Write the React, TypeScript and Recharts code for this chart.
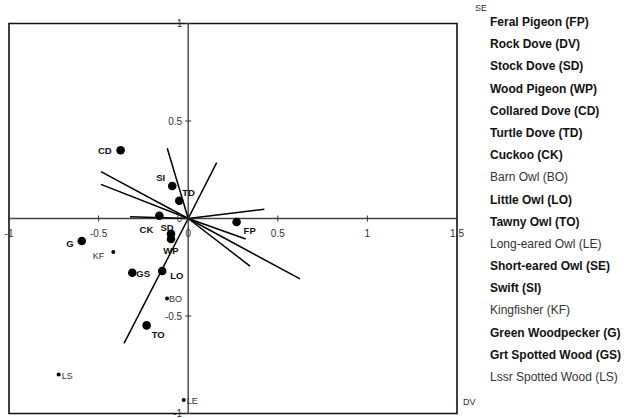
import { ScatterChart, Scatter, XAxis, YAxis, ReferenceLine, ReferenceArea } from "recharts"

// species scores (pixel-read estimates)
const majorCodes = ["CD", "SI", "TD", "CK", "SD", "WP", "FP", "G", "GS", "LO", "TO"]
const majorX = [-0.377, -0.089, -0.05, -0.161, -0.096, -0.096, 0.27, -0.594, -0.312, -0.145, -0.232]
const majorY = [0.35, 0.167, 0.091, 0.014, -0.079, -0.105, -0.018, -0.115, -0.278, -0.269, -0.548]

const minorCodes = ["KF", "BO", "LS", "LE"]
const minorX = [-0.418, -0.118, -0.723, -0.025]
const minorY = [-0.172, -0.41, -0.8, -0.931]

// environmental vectors, drawn from the origin
const vecX = [-0.117, 0.159, -0.487, -0.487, -0.325, 0.425, 0.321, 0.345, 0.624, -0.358]
const vecY = [0.36, 0.287, 0.24, 0.175, 0.009, 0.047, -0.105, -0.244, -0.31, -0.64]

const xTicks = [-1, -0.5, 0, 0.5, 1, 1.5]
const yTicks = [1, 0.5, 0, -0.5, -1]

const legendNames = [
  "Feral Pigeon (FP)",
  "Rock Dove (DV)",
  "Stock Dove (SD)",
  "Wood Pigeon (WP)",
  "Collared Dove (CD)",
  "Turtle Dove (TD)",
  "Cuckoo (CK)",
  "Barn Owl (BO)",
  "Little Owl (LO)",
  "Tawny Owl (TO)",
  "Long-eared Owl (LE)",
  "Short-eared Owl (SE)",
  "Swift (SI)",
  "Kingfisher (KF)",
  "Green Woodpecker (G)",
  "Grt Spotted Wood (GS)",
  "Lssr Spotted Wood (LS)",
]
const legendBold = [true, true, true, true, true, true, true, false, true, true, false, true, true, false, true, true, false]

// label placement relative to the marker: [dx, dy, anchor]
const labelPos: Record<string, [number, number, string]> = {
  CD: [-9, 4, "end"],
  SI: [-7, -5, "end"],
  TD: [3, -5, "start"],
  CK: [-6, 17, "end"],
  SD: [-4, -3, "middle"],
  WP: [0, 15, "middle"],
  FP: [7, 12, "start"],
  G: [-8, 6, "end"],
  GS: [4, 4, "start"],
  LO: [8, 8, "start"],
  TO: [5, 13, "start"],
  KF: [-9, 7, "end"],
  BO: [2, 4, "start"],
  LS: [3, 4, "start"],
  LE: [3, 4, "start"],
}

const FONT = "'Liberation Sans', Arial, sans-serif"

const majorData = majorCodes.map((c, i) => ({ x: majorX[i], y: majorY[i], code: c }))
const minorData = minorCodes.map((c, i) => ({ x: minorX[i], y: minorY[i], code: c }))
const xTickData = xTicks.map((t) => ({ x: t, y: 0, t }))
const yTickData = yTicks.map((t) => ({ x: 0, y: t, t }))

function PointShape(props: any, big: boolean) {
  const { cx, cy, payload } = props
  const [dx, dy, anchor] = labelPos[payload.code]
  return (
    <g>
      <circle cx={cx} cy={cy} r={big ? 4.3 : 2} fill="#000" />
      <text
        x={cx + dx}
        y={cy + dy}
        textAnchor={anchor as any}
        fontSize={big ? 9.5 : 9}
        fontWeight={big ? "bold" : "normal"}
        fontFamily={FONT}
        fill={big ? "#111" : "#333"}
      >
        {payload.code}
      </text>
    </g>
  )
}

function XTickShape(props: any) {
  const { cx, cy, payload } = props
  return (
    <g>
      <line x1={cx} x2={cx} y1={cy - 3} y2={cy + 3} stroke="#333" strokeWidth={1} />
      <text x={cx} y={cy + 18} textAnchor="middle" fontSize={10} fontFamily={FONT} fill="#333">
        {payload.t}
      </text>
    </g>
  )
}

function YTickShape(props: any) {
  const { cx, cy, payload } = props
  return (
    <g>
      <line x1={cx - 3} x2={cx + 3} y1={cy} y2={cy} stroke="#333" strokeWidth={1} />
      <text x={cx - 6} y={cy + 3.5} textAnchor="end" fontSize={10} fontFamily={FONT} fill="#333">
        {payload.t}
      </text>
    </g>
  )
}

export default function App() {
  return (
    <div style={{ position: "absolute", left: 0, top: 0, width: 639, height: 418, background: "#fff" }}>
      <ScatterChart width={639} height={418} margin={{ top: 23.5, right: 182, bottom: 4.5, left: 9 }}>
        <XAxis type="number" dataKey="x" domain={[-1, 1.5]} hide />
        <YAxis type="number" dataKey="y" domain={[-1, 1]} hide />
        <ReferenceArea x1={-1} x2={1.5} y1={-1} y2={1} fill="none" stroke="#111" strokeWidth={1.6} />
        <ReferenceLine y={0} stroke="#444" strokeWidth={1.4} />
        <ReferenceLine x={0} stroke="#444" strokeWidth={1.4} />
        {vecX.map((vx, i) => (
          <ReferenceLine
            key={i}
            segment={[
              { x: 0, y: 0 },
              { x: vx, y: vecY[i] },
            ]}
            stroke="#000"
            strokeWidth={1.5}
          />
        ))}
        <Scatter data={xTickData} shape={XTickShape} isAnimationActive={false} />
        <Scatter data={yTickData} shape={YTickShape} isAnimationActive={false} />
        <Scatter data={majorData} shape={(p: any) => PointShape(p, true)} isAnimationActive={false} />
        <Scatter data={minorData} shape={(p: any) => PointShape(p, false)} isAnimationActive={false} />
      </ScatterChart>
      <div style={{ position: "absolute", left: 475, top: 3, fontSize: 9, fontFamily: FONT, color: "#333" }}>SE</div>
      <div style={{ position: "absolute", left: 463, top: 397, fontSize: 9, fontFamily: FONT, color: "#333" }}>DV</div>
      <div style={{ position: "absolute", left: 490, top: 11, fontFamily: FONT, fontSize: 12 }}>
        {legendNames.map((n, i) => (
          <div
            key={n}
            style={{
              height: 22.2,
              lineHeight: "22.2px",
              whiteSpace: "nowrap",
              fontWeight: legendBold[i] ? "bold" : "normal",
              color: legendBold[i] ? "#111" : "#333",
            }}
          >
            {n}
          </div>
        ))}
      </div>
    </div>
  )
}
